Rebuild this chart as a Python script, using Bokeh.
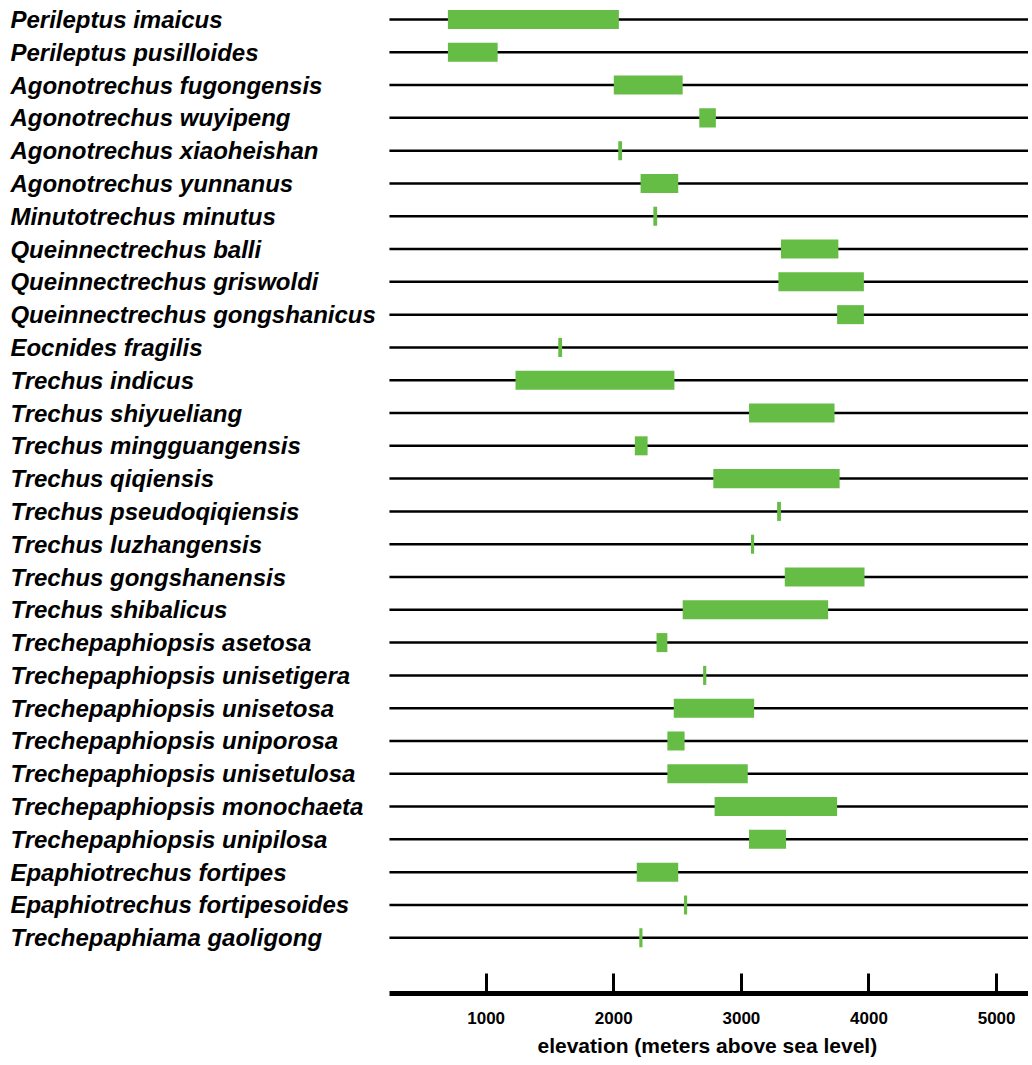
from bokeh.plotting import figure
from bokeh.models import Range1d, FixedTicker, Title
from bokeh.core.properties import value
from bokeh.embed import file_html
from bokeh.resources import INLINE

species = [
    "Perileptus imaicus", "Perileptus pusilloides", "Agonotrechus fugongensis",
    "Agonotrechus wuyipeng", "Agonotrechus xiaoheishan", "Agonotrechus yunnanus",
    "Minutotrechus minutus", "Queinnectrechus balli", "Queinnectrechus griswoldi",
    "Queinnectrechus gongshanicus", "Eocnides fragilis", "Trechus indicus",
    "Trechus shiyueliang", "Trechus mingguangensis", "Trechus qiqiensis",
    "Trechus pseudoqiqiensis", "Trechus luzhangensis", "Trechus gongshanensis",
    "Trechus shibalicus", "Trechepaphiopsis asetosa", "Trechepaphiopsis unisetigera",
    "Trechepaphiopsis unisetosa", "Trechepaphiopsis uniporosa", "Trechepaphiopsis unisetulosa",
    "Trechepaphiopsis monochaeta", "Trechepaphiopsis unipilosa", "Epaphiotrechus fortipes",
    "Epaphiotrechus fortipesoides", "Trechepaphiama gaoligong",
]
elev_low = [700, 700, 2000, 2670, 2035, 2210, 2310, 3310, 3290, 3750, 1565, 1230,
            3060, 2165, 2780, 3280, 3075, 3340, 2540, 2335, 2700, 2470, 2420, 2420,
            2790, 3060, 2180, 2550, 2200]
elev_high = [2040, 1090, 2540, 2800, 2065, 2505, 2340, 3760, 3960, 3960, 1595, 2475,
             3730, 2265, 3770, 3310, 3100, 3965, 3680, 2420, 2725, 3100, 2555, 3050,
             3750, 3350, 2505, 2575, 2225]
x_ticks = [1000, 2000, 3000, 4000, 5000]
x_title = "elevation (meters above sea level)"

rows = list(range(len(species)))
FONT = "Liberation Sans"
AXIS_START, AXIS_END = 242, 5250   # extent of the elevation axis
LABEL_X = -2728                    # where the species names start

p = figure(frame_width=1028, frame_height=993, output_backend="svg",
           toolbar_location=None,
           x_range=Range1d(-2806, AXIS_END), y_range=Range1d(29.70, -0.579),
           min_border_left=0, min_border_right=0, min_border_top=0,
           min_border_bottom=0, y_axis_location=None)
p.outline_line_color = None
p.xgrid.visible = False
p.ygrid.visible = False
p.background_fill_color = "white"

p.segment(x0=AXIS_START, x1=AXIS_END, y0=rows, y1=rows,
          line_color="black", line_width=2.5)
p.hbar(y=rows, left=elev_low, right=elev_high, height=0.58,
       fill_color="#66bd45", line_color=None)
p.text(x=LABEL_X, y=rows, text=species, text_font=value(FONT),
       text_font_style="bold italic", text_font_size="24px",
       text_color="black", text_align="left", text_baseline="middle")

ax = p.xaxis[0]
ax.bounds = (AXIS_START, AXIS_END)
ax.ticker = FixedTicker(ticks=x_ticks)
ax.axis_line_width = 5
ax.axis_line_color = "black"
ax.major_tick_in = 20
ax.major_tick_out = 0
ax.major_tick_line_width = 3
ax.major_tick_line_color = "black"
ax.minor_tick_line_color = None
ax.major_label_standoff = 18
ax.major_label_text_font = FONT
ax.major_label_text_font_style = "bold"
ax.major_label_text_font_size = "17px"
ax.major_label_text_color = "black"

p.add_layout(Title(text=x_title, align="left", offset=537, standoff=10,
                   text_font=FONT, text_font_style="bold", text_font_size="21px",
                   text_color="black"), "below")

open("out.html", "w").write(file_html(p, INLINE))
